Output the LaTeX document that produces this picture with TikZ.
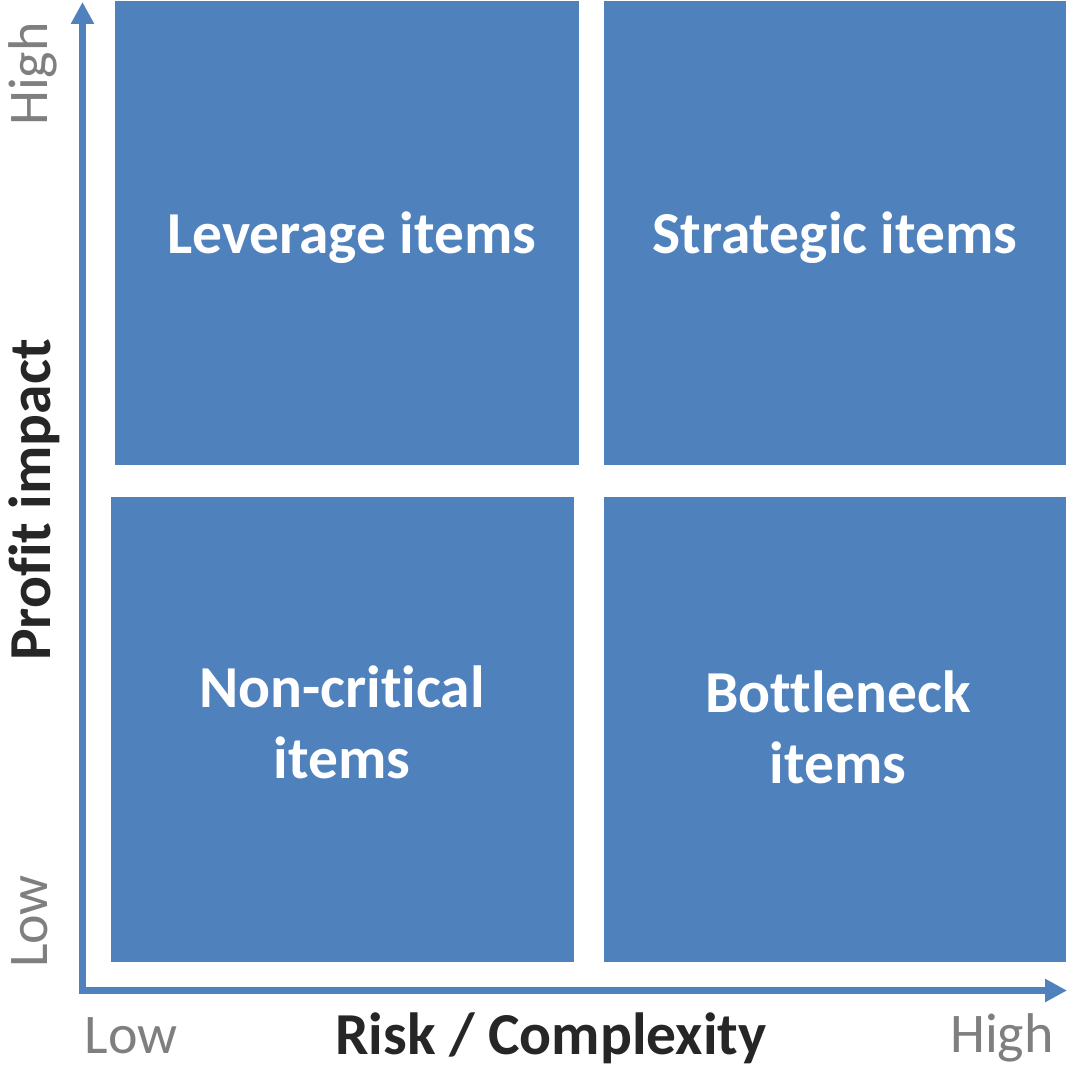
\documentclass[tikz,border=0pt]{standalone}
\usepackage{fontspec}
\setmainfont{Carlito}[Ligatures=NoCommon]
\usetikzlibrary{arrows.meta}
\definecolor{boxblue}{HTML}{4F81BD}
\definecolor{axisgray}{HTML}{7F7F7F}
\definecolor{labelblack}{HTML}{262626}
\tikzset{
  quad/.style={fill=boxblue, draw=none, inner sep=0pt},
  quadtext/.style={text=white, font=\fontsize{59.5}{71}\selectfont\bfseries, inner sep=0pt, align=center},
  axistitle/.style={text=labelblack, font=\fontsize{59.5}{70}\selectfont\bfseries, inner sep=0pt},
  axisend/.style={text=axisgray, font=\fontsize{56}{67}\selectfont, inner sep=0pt},
  axisline/.style={draw=boxblue, line width=7pt, line join=miter,
    {Triangle[width=22pt,length=22pt]}-{Triangle[width=22pt,length=22pt]}}
}
\begin{document}
\begin{tikzpicture}[x=1pt,y=-1pt]
\useasboundingbox (0,0) rectangle (1068,1067);
% quadrants
\node[quad, minimum width=464pt, minimum height=464pt] (lev) at (347,233) {};
\node[quad, minimum width=462pt, minimum height=464pt] (str) at (835,233) {};
\node[quad, minimum width=463pt, minimum height=465pt] (non) at (342.5,729.5) {};
\node[quad, minimum width=462pt, minimum height=465pt] (bot) at (835,729.5) {};
% quadrant labels
\node[quadtext, anchor=base] (levt) at (352,254) {Leverage items};
\node[quadtext, anchor=base] (strt) at (835,254) {Strategic items};
\node[quadtext, anchor=base] (nont) at (342,778) {Non-critical\\items};
\node[quadtext, anchor=base] (bott) at (838,783) {Bottleneck\\items};
% axes
\coordinate (ytip) at (82.5,2);
\coordinate (origin) at (82.5,990.5);
\coordinate (xtip) at (1067,990.5);
\draw[axisline] (ytip) -- (origin) -- (xtip);
% axis titles
\node[axistitle, anchor=base, rotate=90] (ytitle) at (50,500) {Profit impact};
\node[axistitle, anchor=base] (xtitle) at (551,1054) {Risk / Complexity};
% axis ends
\node[axisend, anchor=base, rotate=90] (yhigh) at (47,74) {High};
\node[axisend, anchor=base, rotate=90] (ylow) at (47,921.5) {Low};
\node[axisend, anchor=base] (xlow) at (131,1053) {Low};
\node[axisend, anchor=base] (xhigh) at (1002,1052) {High};
\end{tikzpicture}
\end{document}
